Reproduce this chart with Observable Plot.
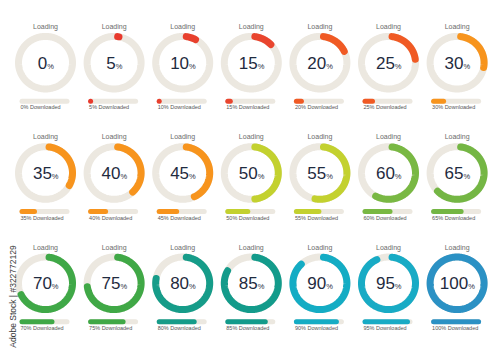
<!DOCTYPE html>
<html><head><meta charset="utf-8">
<script src="https://cdn.jsdelivr.net/npm/d3@7"></script>
<script src="https://cdn.jsdelivr.net/npm/@observablehq/plot@0.6"></script>
<style>body{margin:0;background:#fff;}</style>
</head><body><div id="chart"></div>
<script>
// ---- data ----
const percents = [0, 5, 10, 15, 20, 25, 30, 35, 40, 45, 50, 55, 60, 65, 70, 75, 80, 85, 90, 95, 100];
const colors = ["#e8392c", "#e8392c", "#e8402d", "#e9452e", "#f05a24", "#f05a24", "#f7941d", "#f7941d", "#f7941d", "#f7941d",
                "#c3d12f", "#c3d12f", "#79b843", "#74b644", "#3fa847", "#40a846", "#169c89", "#139b8b", "#14acc4", "#18abc5", "#2b91c4"];
const topLabel = "Loading";
const bottomLabel = "Downloaded";
const watermark = "Adobe Stock | #322772129";

// ---- layout ----
const W = 500, H = 353, COLS = 7;
const X0 = 45, DX = 68.6, Y0 = 62.2, DY = 110.3;
const RX = 27, RY = 26.3, RING = 7;
const CAP = (RING / 2) / 26.5 * 180 / Math.PI;
const BAR_W = 50, BAR_H = 5;
const trackColor = "#ece8e0";
const font = "Liberation Sans, Arial, Helvetica, sans-serif";

const items = percents.map((p, i) => ({
  id: i, p, color: colors[i],
  cx: X0 + (i % COLS) * DX,
  cy: Y0 + Math.floor(i / COLS) * DY
}));

function arcPoints(d, a0, a1) {
  const pts = [];
  const n = Math.max(1, Math.ceil((a1 - a0) / 2));
  for (let k = 0; k <= n; k++) {
    const a = (a0 + (a1 - a0) * k / n) * Math.PI / 180;
    pts.push({id: d.id, color: d.color, x: d.cx + RX * Math.sin(a), y: d.cy - RY * Math.cos(a)});
  }
  return pts;
}

const tracks = items.flatMap(d => arcPoints(d, 0, 360));
const progress = items.filter(d => d.p > 0).flatMap(d => {
  if (d.p >= 100) return arcPoints(d, 0, 360);
  const a0 = CAP, a1 = Math.max(CAP, d.p * 3.6 - CAP);
  return arcPoints(d, a0, a1);
});

const bars = items.map(d => {
  const left = d.cx - 26;
  return {...d, left, bx1: left + BAR_H / 2, bx2: left + BAR_W - BAR_H / 2,
          px2: Math.max(left + BAR_H / 2, left + d.p / 100 * BAR_W - BAR_H / 2), by: d.cy + 38.5};
});

const DIG = 0.556 * 17, PCT = 0.889 * 7.5;
const nums = items.map(d => {
  const s = String(d.p);
  const w = s.length * DIG + PCT + 0.5;
  const xEnd = d.cx - w / 2 + s.length * DIG + 0.5;
  return {...d, s, xEnd, base: d.cy + 6};
});

const chart = Plot.plot({
  width: W, height: H, margin: 0,
  style: {background: "#ffffff"},
  x: {domain: [0, W], range: [0, W], axis: null},
  y: {domain: [0, H], range: [0, H], axis: null},
  color: {type: "identity"},
  marks: [
    Plot.line(tracks, {x: "x", y: "y", z: "id", stroke: trackColor, strokeWidth: RING, strokeLinejoin: "round"}),
    Plot.line(progress, {x: "x", y: "y", z: "id", stroke: "color", strokeWidth: RING, strokeLinecap: "round", strokeLinejoin: "round"}),
    Plot.link(bars, {x1: "bx1", x2: "bx2", y1: "by", y2: "by", stroke: trackColor, strokeWidth: BAR_H, strokeLinecap: "round"}),
    Plot.link(bars.filter(d => d.p > 0), {x1: "bx1", x2: "px2", y1: "by", y2: "by", stroke: "color", strokeWidth: BAR_H, strokeLinecap: "round"}),
    Plot.text(items, {x: "cx", y: d => d.cy - 36, text: () => topLabel, fontSize: 7, fill: "#6b6b6b", fontFamily: font, textAnchor: "middle", lineAnchor: "middle"}),
    Plot.text(nums, {x: "xEnd", y: "base", text: "s", fontSize: 17, fill: "#1f2b40", fontFamily: font, textAnchor: "end", lineAnchor: "bottom"}),
    Plot.text(nums, {x: "xEnd", y: "base", text: () => "%", fontSize: 7.5, fill: "#1f2b40", fontFamily: font, textAnchor: "start", lineAnchor: "bottom"}),
    Plot.text(bars, {x: d => d.left + 1, y: d => d.cy + 44.8, text: d => `${d.p}% ${bottomLabel}`, fontSize: 5.5, fill: "#555", fontFamily: font, textAnchor: "start", lineAnchor: "middle"}),
    Plot.text([watermark], {x: () => 13, y: () => 296, text: d => d, rotate: -90, fontSize: 8.5, fill: "#3a3a3a", fontFamily: font, textAnchor: "middle", lineAnchor: "middle"})
  ]
});
document.getElementById("chart").append(chart);
</script>
</body></html>
